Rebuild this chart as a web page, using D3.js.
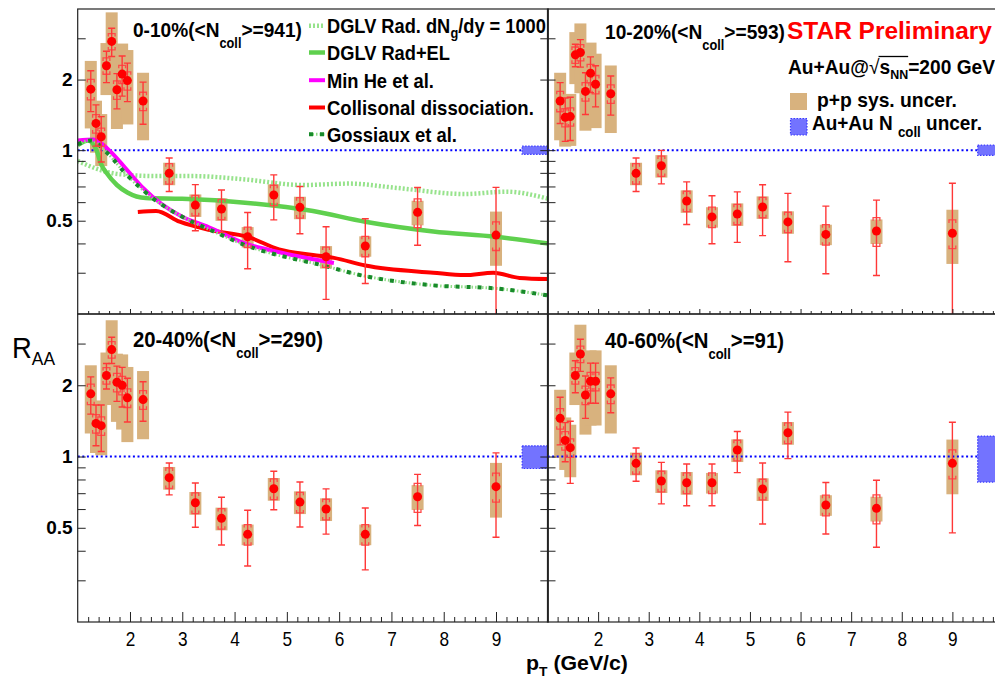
<!DOCTYPE html>
<html>
<head>
<meta charset="utf-8">
<script src="https://cdn.jsdelivr.net/npm/d3@7/dist/d3.min.js"></script>
<style>
html,body{margin:0;padding:0;background:#fff;}
svg{display:block;}
text{white-space:pre;}
</style>
</head>
<body>
<svg id="chart" width="995" height="682"></svg>
<script>
// ================= DATA =================
const ptBins   = [1.25,1.35,1.45,1.55,1.65,1.75,1.85,1.95,2.25,2.75,3.25,3.75,4.25,4.75,5.25,5.75,6.5,7.5,9.0];
const ppSysRel = [0.32,0.25,0.25,0.25,0.33,0.32,0.35,0.35,0.32,0.11,0.11,0.11,0.10,0.11,0.11,0.11,0.10,0.12,0.26];
const auauSysRel=[0.10,0.09,0.09,0.08,0.08,0.09,0.09,0.09,0.09,0.10,0.10,0.10,0.10,0.10,0.10,0.10,0.10,0.14,0.14];

const raa0_10  = [1.82,1.30,1.14,2.29,2.91,1.81,2.11,1.98,1.62,0.796,0.583,0.561,0.427,0.644,0.570,0.351,0.390,0.543,0.434];
const stat0_10 = [0.36,0.26,0.25,0.35,0.40,0.31,0.41,0.37,0.33,0.13,0.13,0.115,0.115,0.14,0.13,0.12,0.12,0.15,0.26];
const raa10_20 = [1.62,1.38,1.39,2.55,2.61,1.78,2.13,1.91,1.74,0.796,0.858,0.607,0.519,0.534,0.572,0.494,0.437,0.452,0.442];
const stat10_20= [0.32,0.29,0.29,0.28,0.35,0.36,0.37,0.38,0.33,0.13,0.14,0.125,0.12,0.13,0.14,0.16,0.14,0.16,0.28];
const raa20_40 = [1.84,1.38,1.35,2.20,2.83,2.06,2.00,1.77,1.74,0.814,0.638,0.548,0.469,0.731,0.642,0.600,0.469,0.676,0.746];
const stat20_40= [0.33,0.27,0.30,0.27,0.36,0.35,0.38,0.37,0.33,0.125,0.135,0.125,0.124,0.135,0.138,0.13,0.137,0.165,0.29];
const raa40_60 = [1.45,1.17,1.09,2.20,2.71,1.82,2.08,2.08,1.84,0.936,0.788,0.775,0.775,1.065,0.729,1.26,0.624,0.604,0.936];
const stat40_60= [0.33,0.22,0.32,0.34,0.42,0.37,0.40,0.40,0.31,0.15,0.157,0.155,0.155,0.21,0.21,0.28,0.153,0.19,0.46];

const ncollUncer = [0.04,0.05,0.11,0.22];
const centralities = ["0-10%","10-20%","20-40%","40-60%"];
const ncollValues = ["941","593","290","91"];

// theory curves (0-10%)
const dglvRadPt  = [1.0,1.2,1.45,1.8,2.5,3.2,4.2,5.3,6.2,7.1,8.4,9.2,10.0];
const dglvRadRaa = [0.90,0.86,0.82,0.79,0.775,0.775,0.75,0.71,0.72,0.69,0.65,0.665,0.62];
const dglvElPt   = [1.0,1.2,1.36,1.45,1.55,1.75,1.95,2.3,3.0,4.2,5.5,6.5,7.8,9.0,10.0];
const dglvElRaa  = [1.05,1.10,1.0,0.87,0.80,0.71,0.66,0.625,0.62,0.597,0.55,0.495,0.45,0.427,0.40];
const minHePt    = [1.0,1.3,1.6,1.95,2.25,2.6,3.0,3.5,4.2,4.9,5.9];
const minHeRaa   = [1.10,1.11,1.0,0.82,0.69,0.59,0.52,0.47,0.40,0.365,0.33];
const collDissPt = [2.15,2.5,2.95,3.55,4.25,4.85,5.5,5.9,6.5,7.8,8.4,8.95,9.45,10.0];
const collDissRaa= [0.545,0.55,0.495,0.455,0.427,0.377,0.357,0.347,0.322,0.30,0.293,0.30,0.285,0.282];
const gossPt     = [1.0,1.25,1.55,1.95,2.45,3.0,3.6,4.25,5.1,5.5,6.5,7.8,9.0,10.0];
const gossRaa    = [1.06,1.10,0.98,0.78,0.62,0.52,0.45,0.39,0.345,0.33,0.29,0.265,0.257,0.24];

const xTickValues = [2,3,4,5,6,7,8,9];
const yTickValues = [0.3,0.4,0.5,0.6,0.7,0.8,0.9,1,2,3];
const yLabelValues = [0.5,1,2];
const yLabelTexts  = ["0.5","1","2"];

// ================= STYLE / LAYOUT =================
const FONT = "'Liberation Sans', Arial, Helvetica, sans-serif";
const TAN = "#d8b27e";
const layout = [
  {x0:77.7, x1:548.3, y0:9,   y1:314, left:true,  bottom:false, lab:{x:133, y:37,  size:21, w:169}},
  {x0:547.5,x1:1003,  y0:9,   y1:314, left:false, bottom:false, lab:{x:605, y:38.5,size:21, w:180}},
  {x0:77.7, x1:548.3, y0:314, y1:622, left:true,  bottom:true,  lab:{x:133, y:347, size:22, w:190}},
  {x0:547.5,x1:1003,  y0:314, y1:622, left:false, bottom:true,  lab:{x:605, y:348, size:22, w:179}}
];
const theory = [
  {pt:dglvRadPt,  raa:dglvRadRaa,  color:"#97e38c", width:4.5, dash:"2,2"},
  {pt:dglvElPt,   raa:dglvElRaa,   color:"#5fd04e", width:4.5, dash:null},
  {pt:collDissPt, raa:collDissRaa, color:"#ff0000", width:4,   dash:null},
  {pt:minHePt,    raa:minHeRaa,    color:"#ff00ff", width:4,   dash:null},
  {pt:gossPt,     raa:gossRaa,     color:"#178a2a", width:4,   dash:"4,7", under:"#8fdc86"}
];

const svg = d3.select("#chart");
const defs = svg.append("defs");
svg.append("rect").attr("width",995).attr("height",682).attr("fill","#fff");

function richText(parent, x, y, parts, opt) {
  const g = parent.append("g");
  const inner = g.append("g");
  let cx = 0;
  const marks = {};
  parts.forEach(p => {
    const sz = p.size || opt.size;
    const t = inner.append("text").attr("x", cx).attr("y", p.dy || 0)
      .style("font-family", FONT).style("font-size", sz + "px")
      .style("font-weight", p.weight || opt.weight || "bold")
      .attr("fill", opt.fill || "#000").text(p.t);
    const w = t.node().getComputedTextLength();
    if (p.mark) marks[p.mark] = [cx, cx + w];
    cx += w;
  });
  const sx = opt.width ? opt.width / cx : 1;
  g.attr("transform", `translate(${x},${y}) scale(${sx},1)`);
  return {g: inner, width: cx, marks};
}

const raaSets = [raa0_10, raa10_20, raa20_40, raa40_60];
const statSets = [stat0_10, stat10_20, stat20_40, stat40_60];

layout.forEach((L, i) => {
  const x = d3.scaleLinear().domain([1, 10]).range([L.x0, L.x1]);
  const y = d3.scaleLog().domain([0.2, 4]).range([L.y1, L.y0]);
  const vals = raaSets[i], stats = statSets[i];
  const clipId = "clip" + i;
  defs.append("clipPath").attr("id", clipId).append("rect")
    .attr("x", L.x0).attr("y", L.y0).attr("width", L.x1 - L.x0).attr("height", L.y1 - L.y0);
  const g = svg.append("g").attr("clip-path", `url(#${clipId})`);

  // p+p systematic boxes
  g.selectAll("rect.pp").data(ptBins).join("rect").attr("class", "pp")
    .attr("x", d => x(d) - 6).attr("width", 12)
    .attr("y", (d, j) => y(vals[j] * (1 + ppSysRel[j])))
    .attr("height", (d, j) => y(vals[j] * (1 - ppSysRel[j])) - y(vals[j] * (1 + ppSysRel[j])))
    .attr("fill", TAN);

  // unity line
  g.append("line").attr("x1", L.x0).attr("x2", L.x1).attr("y1", y(1)).attr("y2", y(1))
    .attr("stroke", "#0000ff").attr("stroke-width", 2).attr("stroke-dasharray", "2,2.6");

  // Ncoll uncertainty box
  g.append("rect").attr("x", x(9.5)).attr("width", x(10) - x(9.5))
    .attr("y", y(1 + ncollUncer[i])).attr("height", y(1 - ncollUncer[i]) - y(1 + ncollUncer[i]))
    .attr("fill", "#7373ff").attr("stroke", "#3a3aff").attr("stroke-width", 1.2).attr("stroke-dasharray", "1.5,1.5");

  // theory curves only in 0-10%
  if (i === 0) {
    const line = d3.line().x(d => x(d[0])).y(d => y(d[1])).curve(d3.curveMonotoneX);
    theory.forEach(t => {
      const pts = t.pt.map((p, k) => [p, t.raa[k]]);
      if (t.under) {
        g.append("path").attr("d", line(pts)).attr("fill", "none").attr("stroke", t.under)
          .attr("stroke-width", 3).attr("stroke-dasharray", "1.5,2");
      }
      g.append("path").attr("d", line(pts)).attr("fill", "none").attr("stroke", t.color)
        .attr("stroke-width", t.width).attr("stroke-dasharray", t.dash);
    });
  }

  // Au+Au systematic brackets
  const bw = 3.4, bl = 3;
  g.selectAll("path.br").data(ptBins).join("path").attr("class", "br")
    .attr("d", (d, j) => {
      const cx = x(d), yt = y(vals[j] * (1 + auauSysRel[j])), yb = y(vals[j] * (1 - auauSysRel[j]));
      return `M${cx - bw},${yt + bl}V${yt}H${cx + bw}V${yt + bl}M${cx - bw},${yb - bl}V${yb}H${cx + bw}V${yb - bl}`;
    })
    .attr("fill", "none").attr("stroke", "#ff4a4a").attr("stroke-width", 1.3);

  // statistical error bars
  g.selectAll("path.st").data(ptBins).join("path").attr("class", "st")
    .attr("d", (d, j) => {
      const cx = x(d), yt = y(vals[j] + stats[j]), yb = y(Math.max(vals[j] - stats[j], 0.05));
      return `M${cx},${yt}V${yb}M${cx - 3.5},${yt}H${cx + 3.5}M${cx - 3.5},${yb}H${cx + 3.5}`;
    })
    .attr("fill", "none").attr("stroke", "#ff3838").attr("stroke-width", 1.4);

  // points
  g.selectAll("circle").data(ptBins).join("circle")
    .attr("cx", d => x(d)).attr("cy", (d, j) => y(vals[j])).attr("r", 4.5).attr("fill", "#ff0000");

  // frame
  svg.append("rect").attr("x", L.x0).attr("y", L.y0).attr("width", L.x1 - L.x0).attr("height", L.y1 - L.y0)
    .attr("fill", "none").attr("stroke", "#222").attr("stroke-width", 1.2);

  // x axis ticks
  const minor = x.ticks(45).filter(v => Math.abs(v - Math.round(v)) > 1e-6);
  const gxm = svg.append("g").attr("transform", `translate(0,${L.y1})`)
    .call(d3.axisBottom(x).tickValues(minor).tickSize(-(L.bottom ? 5 : 3)).tickFormat("").tickSizeOuter(0));
  gxm.select(".domain").remove();
  const gx = svg.append("g").attr("transform", `translate(0,${L.y1})`)
    .call(d3.axisBottom(x).tickValues(xTickValues).tickSize(-(L.bottom ? 10 : 5)).tickPadding(9)
      .tickFormat(L.bottom ? d3.format("d") : "").tickSizeOuter(0));
  gx.select(".domain").remove();
  gx.selectAll("text").style("font-family", FONT).style("font-size", "21px").attr("fill", "#000")
    .attr("transform", "scale(0.82,1)");
  [gxm, gx].forEach(a => a.selectAll("line").attr("stroke", "#222").attr("stroke-width", 1));

  // y axis ticks (left edge, inward)
  const gy = svg.append("g").attr("transform", `translate(${L.x0},0)`)
    .call(d3.axisLeft(y).tickValues(yTickValues).tickSize(-8).tickPadding(5)
      .tickFormat(d => {
        const k = yLabelValues.indexOf(d);
        return (L.left && k >= 0) ? yLabelTexts[k] : "";
      }).tickSizeOuter(0));
  gy.select(".domain").remove();
  gy.selectAll("text").style("font-family", FONT).style("font-size", "19px").style("font-weight", "bold").attr("fill", "#000");
  gy.selectAll("line").attr("stroke", "#222");
  if (L.left) {
    const gyr = svg.append("g").attr("transform", `translate(${L.x1},0)`)
      .call(d3.axisRight(y).tickValues(yTickValues).tickSize(-8).tickFormat("").tickSizeOuter(0));
    gyr.select(".domain").remove();
    gyr.selectAll("line").attr("stroke", "#222");
  }

  // panel label
  richText(svg, L.lab.x, L.lab.y, [
    {t: centralities[i] + "(<N"},
    {t: "coll", size: 14, dy: 11},
    {t: ">=" + ncollValues[i] + ")"}
  ], {size: L.lab.size, width: L.lab.w});
});

// ---- legend (0-10% panel) ----
const legRows = [
  {parts: [{t: "DGLV Rad. dN"}, {t: "g", size: 14, dy: 5}, {t: "/dy = 1000"}], w: 219, yb: 33.3},
  {parts: [{t: "DGLV Rad+EL"}], w: 123, yb: 60},
  {parts: [{t: "Min He et al."}], w: 107, yb: 87.7},
  {parts: [{t: "Collisonal dissociation."}], w: 207, yb: 115},
  {parts: [{t: "Gossiaux et al."}], w: 130, yb: 141.7}
];
const legStyleIdx = [0, 1, 3, 2, 4];
legRows.forEach((r, k) => {
  const t = theory[legStyleIdx[k]];
  const ly = r.yb - 7.5;
  if (t.under) {
    svg.append("line").attr("x1", 309).attr("x2", 325).attr("y1", ly).attr("y2", ly)
      .attr("stroke", t.under).attr("stroke-width", 3).attr("stroke-dasharray", "1.5,2");
  }
  svg.append("line").attr("x1", 309).attr("x2", 325).attr("y1", ly).attr("y2", ly)
    .attr("stroke", t.color).attr("stroke-width", t.width).attr("stroke-dasharray", t.dash);
  richText(svg, 327, r.yb, r.parts, {size: 20, width: r.w});
});

// ---- right legend ----
richText(svg, 787, 38.5, [{t: "STAR Preliminary"}], {size: 24, width: 205, fill: "#ff0000"});
const energy = richText(svg, 788, 73.5, [
  {t: "Au+Au@"}, {t: "√", weight: "normal"}, {t: "s", mark: "o1"}, {t: "NN", size: 13, dy: 5, mark: "o2"}, {t: "=200 GeV"}
], {size: 20, width: 207});
energy.g.append("line").attr("x1", energy.marks.o1[0] - 1).attr("x2", energy.marks.o2[1])
  .attr("y1", -17).attr("y2", -17).attr("stroke", "#000").attr("stroke-width", 1.3);

svg.append("rect").attr("x", 790).attr("y", 93).attr("width", 17).attr("height", 17).attr("fill", TAN);
richText(svg, 817, 107, [{t: "p+p sys. uncer."}], {size: 20, width: 140});
svg.append("rect").attr("x", 790.5).attr("y", 118.5).attr("width", 16.5).attr("height", 16.5)
  .attr("fill", "#7373ff").attr("stroke", "#3a3aff").attr("stroke-width", 1.2).attr("stroke-dasharray", "1.5,1.5");
richText(svg, 812, 130, [{t: "Au+Au N "}, {t: "coll", size: 14, dy: 7}, {t: " uncer."}], {size: 20, width: 170});

// ---- axis titles ----
richText(svg, 12, 358, [{t: "R", weight: "normal"}, {t: "AA", size: 19, dy: 7, weight: "normal"}], {size: 30, width: 43});
richText(svg, 526, 670, [{t: "p"}, {t: "T", size: 13, dy: 6}, {t: " (GeV/c)"}], {size: 20, width: 102});
</script>
</body>
</html>
